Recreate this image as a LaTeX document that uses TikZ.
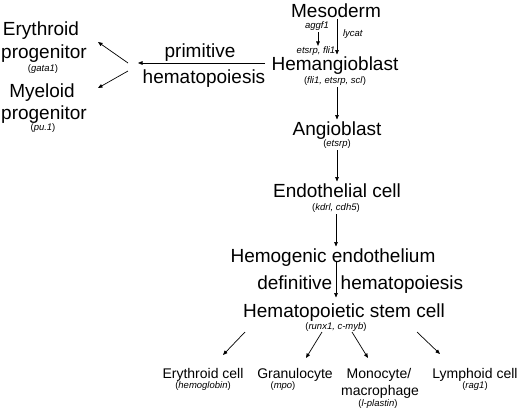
\documentclass[tikz,border=0pt]{standalone}
\usepackage{fontspec}
\setmainfont{Liberation Sans}
\usetikzlibrary{arrows.meta}
\tikzset{
  big/.style={font=\fontsize{19}{22}\selectfont, inner sep=1.5pt, anchor=base},
  mid/.style={font=\fontsize{14}{18}\selectfont, inner sep=1.5pt, anchor=base},
  gene/.style={font=\fontsize{9.5}{11}\selectfont, inner sep=1.5pt, anchor=base},
  arr/.style={-{Triangle[length=4.5pt,width=3.6pt]}, line width=0.7pt},
}
\newcommand\gn[1]{(\textit{#1})}
\begin{document}
\begin{tikzpicture}[x=1pt,y=-1pt]
\useasboundingbox[fill=white] (0,0) rectangle (520,410);
% central column
\node[big] (meso) at (336,17) {Mesoderm};
\node[gene] (aggf) at (317,28.5) {\textit{aggf1}};
\node[gene] (lycat) at (353,36) {\textit{lycat}};
\node[gene, inner sep=0.5pt] (etsfli) at (316,53.5) {\textit{etsrp, fli1}};
\node[big] (hemang) at (335,70) {Hemangioblast};
\node[gene] (hgenes) at (335,83.5) {\gn{fli1, etsrp, scl}};
\node[big] (ang) at (337,135) {Angioblast};
\node[gene] (anggenes) at (337,146.5) {\gn{etsrp}};
\node[big] (endo) at (337,197) {Endothelial cell};
\node[gene] (endogenes) at (336,210.5) {\gn{kdrl, cdh5}};
\node[big] (hemo) at (333,262) {Hemogenic endothelium};
\node[big, anchor=base east] (defa) at (334,289) {definitive};
\node[big, anchor=base west] (defb) at (339,289) {hematopoiesis};
\node[big] (hsc) at (344,317) {Hematopoietic stem cell};
\node[gene] (hscgenes) at (336,329.5) {\gn{runx1, c-myb}};
\coordinate (col) at (336,0);
\coordinate (mcol) at (337,0);
\coordinate (acol) at (318,0);

\draw[arr] (meso.south -| mcol) -- (hemang.north -| mcol);
\draw[arr] (aggf.south -| acol) -- (etsfli.north -| acol);
\draw[arr] (hgenes.south -| mcol) -- (ang.north -| mcol);
\draw[arr] (anggenes.south -| mcol) -- (endo.north -| mcol);
\draw[arr] (endogenes.south -| col) -- (hemo.north -| col);
\draw[arr] (hemo.base -| col) -- ([yshift=4pt]hsc.north -| col);

% primitive branch
\node[big] (prim) at (200,57) {primitive};
\node[big] (hpoi) at (204,83) {hematopoiesis};
\coordinate (hend) at (138,63);
\coordinate (hstart) at (265,63);
\draw[arr] (hstart) -- (hend);

\node[big] (ery1) at (41,35) {Erythroid};
\node[big] (ery2) at (44,58) {progenitor};
\node[gene] (erygene) at (43,71.5) {\gn{gata1}};
\node[big] (mye1) at (42,97) {Myeloid};
\node[big] (mye2) at (44,119) {progenitor};
\node[gene] (myegene) at (43,130.5) {\gn{pu.1}};
\coordinate (sp1) at (128,63);
\coordinate (sp2) at (128,71);
\coordinate (eryend) at (98,42);
\coordinate (myeend) at (98,88);
\draw[arr] (sp1) -- (eryend);
\draw[arr] (sp2) -- (myeend);

% bottom lineages
\node[mid] (erc) at (203,378) {Erythroid cell};
\node[gene] (ercg) at (203,388.5) {\gn{hemoglobin}};
\node[mid] (gran) at (295,378) {Granulocyte};
\node[gene] (grang) at (283,388.5) {\gn{mpo}};
\node[mid] (mono1) at (379,378) {Monocyte/};
\node[mid] (mono2) at (380,395) {macrophage};
\node[gene] (monog) at (378,406) {\gn{l-plastin}};
\node[mid] (lym) at (475,378) {Lymphoid cell};
\node[gene] (lymg) at (475,388.5) {\gn{rag1}};

\coordinate (s1) at (245,332);
\coordinate (s2) at (322,332);
\coordinate (s3) at (352,332);
\coordinate (s4) at (417,332);
\coordinate (e1) at (223,355);
\coordinate (e2) at (306,358);
\coordinate (e3) at (368,358);
\coordinate (e4) at (440,354);
\draw[arr] (s1) -- (e1);
\draw[arr] (s2) -- (e2);
\draw[arr] (s3) -- (e3);
\draw[arr] (s4) -- (e4);
\end{tikzpicture}
\end{document}
